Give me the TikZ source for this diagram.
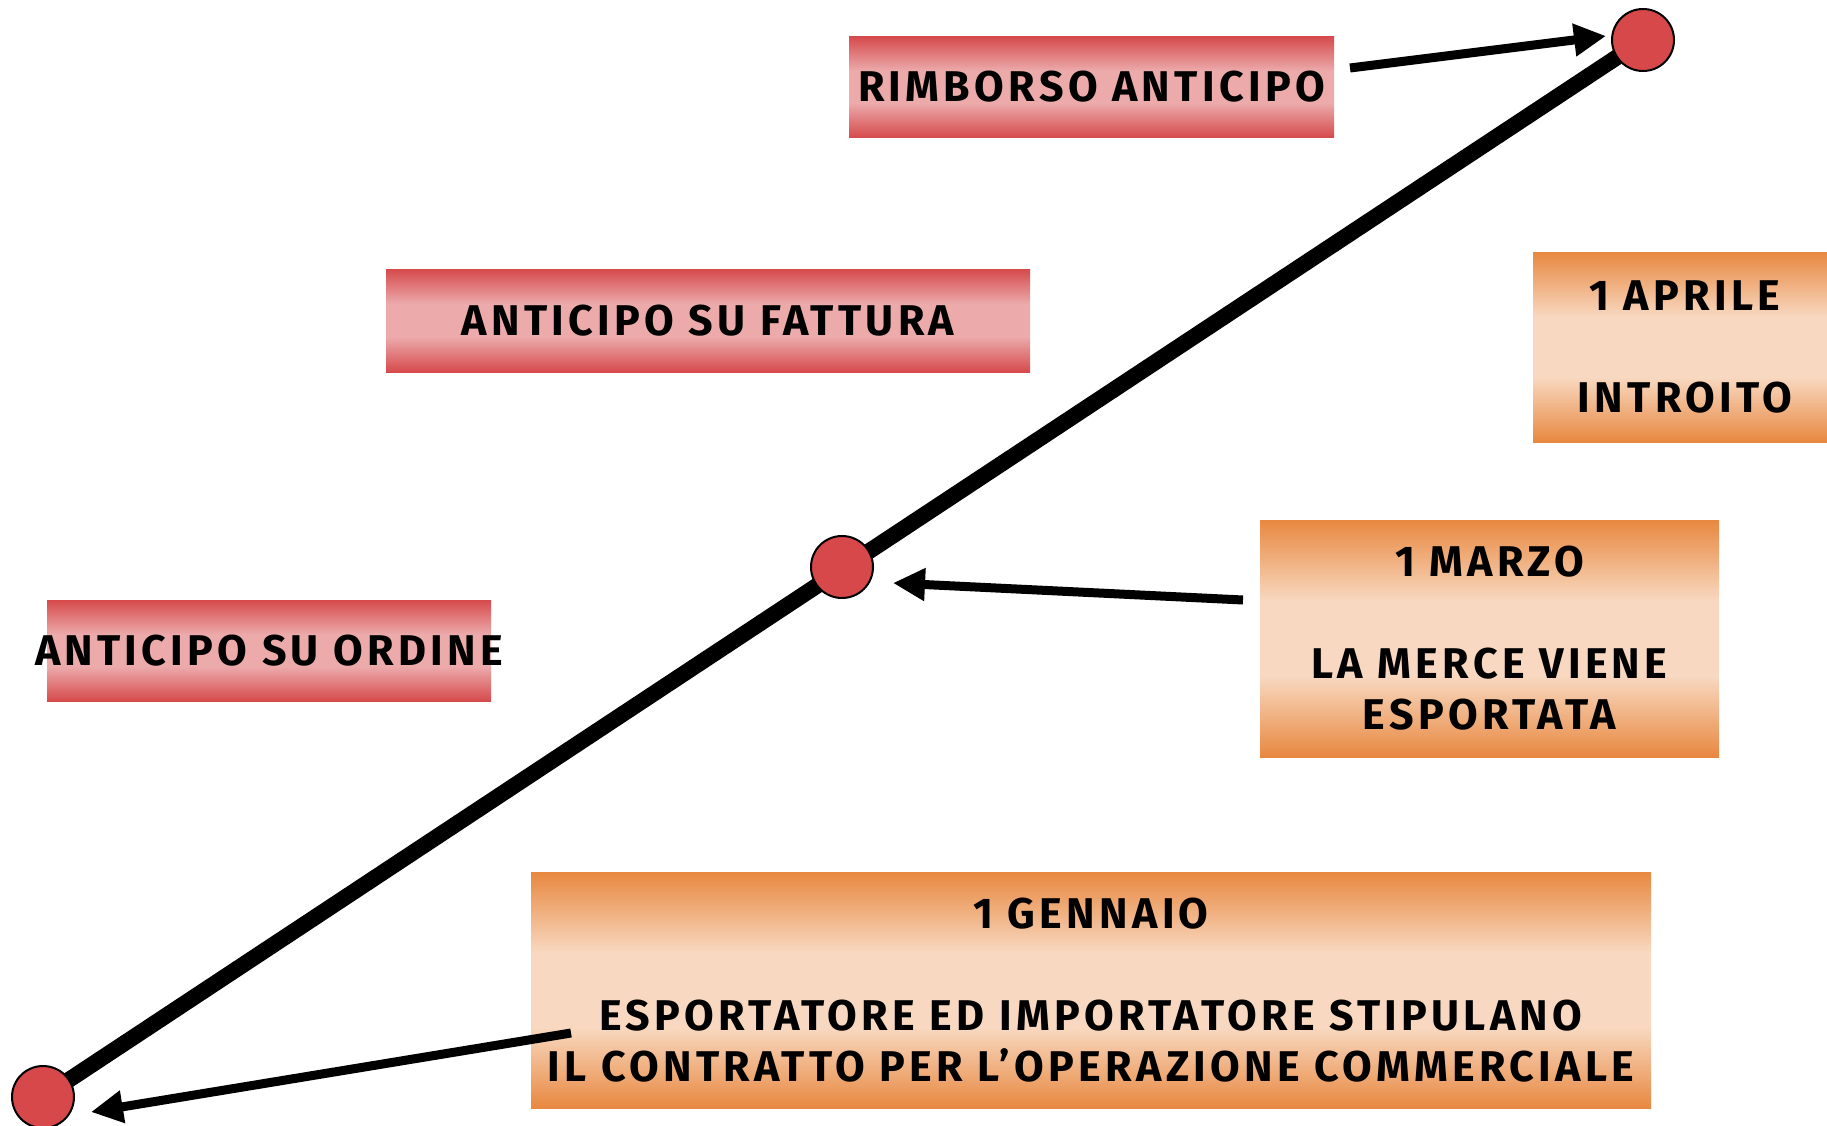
\documentclass[tikz,border=0pt]{standalone}
\usepackage{fontspec}
\setmainfont{Fira Sans}[LetterSpace=10]
\usetikzlibrary{arrows.meta}
\definecolor{rd}{RGB}{214,74,76}
\definecolor{pk}{RGB}{236,170,171}
\definecolor{og}{RGB}{232,136,64}
\definecolor{lo}{RGB}{248,216,192}
\definecolor{dotred}{RGB}{214,72,74}
\pgfdeclareverticalshading{redbar}{100bp}{color(0bp)=(rd); color(25bp)=(rd); color(42bp)=(pk); color(58bp)=(pk); color(75bp)=(rd); color(100bp)=(rd)}
\pgfdeclareverticalshading{orangebar}{100bp}{color(0bp)=(og); color(25bp)=(og); color(42bp)=(lo); color(58bp)=(lo); color(75bp)=(og); color(100bp)=(og)}
\tikzset{
  lbl/.style={font=\bfseries\fontsize{43}{51}\selectfont, align=center, inner sep=0pt, text=black},
  redbox/.style={lbl, shading=redbar, rectangle},
  orbox/.style={lbl, shading=orangebar, rectangle},
  dot/.style={circle, draw=black, line width=2pt, fill=dotred, minimum size=62pt, inner sep=0pt},
  arr/.style={line width=9pt, -{Triangle[length=32pt,width=31pt]}},
  axisline/.style={line width=16pt}
}
\begin{document}
\begin{tikzpicture}[x=1pt,y=-1pt]
\clip (0,0) rectangle (1827,1126);
\useasboundingbox (0,0) rectangle (1827,1126);
% boxes
\node[redbox, minimum width=485pt, minimum height=101pt] (rimb) at (1091.5,87) {RIMBORSO ANTICIPO};
\node[redbox, minimum width=644pt, minimum height=103pt] (fatt) at (708,320.5) {ANTICIPO SU FATTURA};
\node[redbox, minimum width=444pt, minimum height=101pt] (ord) at (269,650.5) {\makebox[0pt][c]{ANTICIPO SU ORDINE}};
\node[orbox, minimum width=304pt, minimum height=190pt] (apr) at (1685,347) {1 APRILE\\[51pt]INTROITO};
\node[orbox, minimum width=459pt, minimum height=237pt] (mar) at (1489.5,638.5) {1 MARZO\\[51pt]LA MERCE VIENE\\ESPORTATA};
\node[orbox, minimum width=1120pt, minimum height=236pt] (gen) at (1091,990) {1 GENNAIO\\[51pt]ESPORTATORE ED IMPORTATORE STIPULANO\\IL CONTRATTO PER L’OPERAZIONE COMMERCIALE};
% timeline
\coordinate (p1) at (43,1097);
\coordinate (p2) at (842,567);
\coordinate (p3) at (1643,40);
\draw[axisline] (p1) -- (p3);
\node[dot] (c1) at (p1) {};
\node[dot] (c2) at (p2) {};
\node[dot] (c3) at (p3) {};
% arrows
\coordinate (a1s) at (1350,68);
\coordinate (a1e) at (1606,36);
\coordinate (a2s) at (1243,600);
\coordinate (a2e) at (893,583);
\coordinate (a3s) at (571,1033);
\coordinate (a3e) at (91,1112);
\draw[arr] (a1s) -- (a1e);
\draw[arr] (a2s) -- (a2e);
\draw[arr] (a3s) -- (a3e);
\end{tikzpicture}
\end{document}
